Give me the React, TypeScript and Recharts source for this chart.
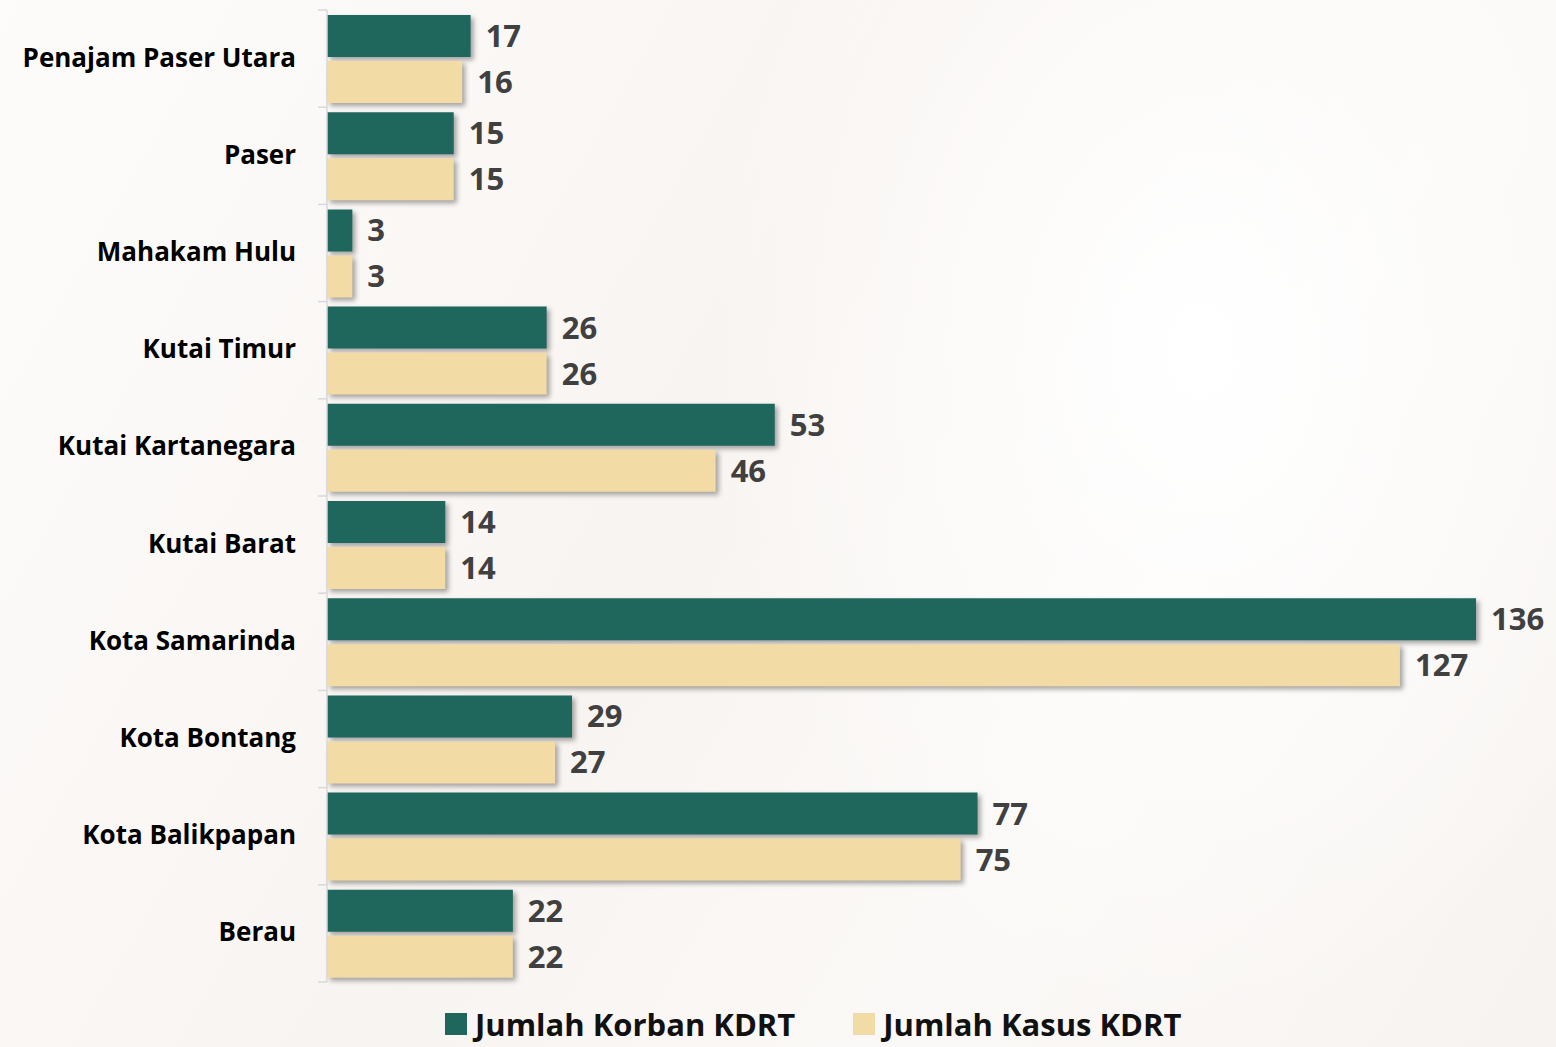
import React from "react";
import { BarChart, Bar, XAxis, YAxis, LabelList, Rectangle } from "recharts";

const regions = [
  "Penajam Paser Utara",
  "Paser",
  "Mahakam Hulu",
  "Kutai Timur",
  "Kutai Kartanegara",
  "Kutai Barat",
  "Kota Samarinda",
  "Kota Bontang",
  "Kota Balikpapan",
  "Berau",
];
const korban = [17, 15, 3, 26, 53, 14, 136, 29, 77, 22];
const kasus = [16, 15, 3, 26, 46, 14, 127, 27, 75, 22];

const TEAL = "#1f665c";
const BEIGE = "#f2dba4";
const FONT = "'Open Sans', Lato, sans-serif";

const W = 1556;
const H = 1047;
const AXIS_X = 327;
const BAND = 97.2;

const data = regions.map((region, i) => ({ region, korban: korban[i], kasus: kasus[i] }));

function ShadowBar(props: any) {
  return <Rectangle {...props} style={{ filter: "drop-shadow(3px 3px 2.5px rgba(0,0,0,0.35))" }} />;
}

function RegionTick({ x, y, payload, index }: any) {
  const top = y - BAND / 2;
  return (
    <g>
      <line x1={AXIS_X - 9} x2={AXIS_X} y1={top} y2={top} stroke="#d9d9d9" strokeWidth={1.5} />
      {index === regions.length - 1 && (
        <line x1={AXIS_X - 9} x2={AXIS_X} y1={top + BAND} y2={top + BAND} stroke="#d9d9d9" strokeWidth={1.5} />
      )}
      <text x={296} y={y} dy={8} textAnchor="end" fill="#000" fontSize={26} fontWeight={700} fontFamily={FONT}>
        {payload.value}
      </text>
    </g>
  );
}

const valueStyle = { fill: "#404040", fontSize: 31, fontWeight: 700, fontFamily: FONT };

export default function App() {
  return (
    <div
      style={{
        position: "absolute",
        left: 0,
        top: 0,
        width: W,
        height: H,
        overflow: "hidden",
        background:
          "radial-gradient(ellipse 500px 700px at 1200px 350px, #ffffff 0%, rgba(255,255,255,0) 100%), linear-gradient(120deg, #fdfcfb 0%, #f8f4f1 45%, #fbf9f7 70%, #f7f3f0 100%)",
      }}
    >
      <BarChart
        width={W}
        height={H}
        data={data}
        layout="vertical"
        barSize={42}
        barGap={4}
        margin={{ top: 10, right: 80, bottom: 65, left: 0 }}
      >
        <XAxis type="number" domain={[0, 136]} hide />
        <YAxis
          type="category"
          dataKey="region"
          width={AXIS_X}
          axisLine={{ stroke: "#d9d9d9", strokeWidth: 1.5 }}
          tickLine={false}
          tick={<RegionTick />}
          interval={0}
        />
        <Bar dataKey="korban" fill={TEAL} shape={<ShadowBar />} isAnimationActive={false}>
          <LabelList dataKey="korban" position="right" offset={15} style={valueStyle} />
        </Bar>
        <Bar dataKey="kasus" fill={BEIGE} shape={<ShadowBar />} isAnimationActive={false}>
          <LabelList dataKey="kasus" position="right" offset={15} style={valueStyle} />
        </Bar>
      </BarChart>
      <div
        style={{
          position: "absolute",
          top: 1005,
          left: 445,
          display: "flex",
          alignItems: "center",
          fontFamily: FONT,
          fontWeight: 700,
          fontSize: 31,
          lineHeight: "38px",
          color: "#111",
          whiteSpace: "nowrap",
        }}
      >
        <span style={{ width: 22, height: 22, background: TEAL, marginRight: 8, display: "inline-block" }} />
        <span>Jumlah Korban KDRT</span>
        <span style={{ width: 22, height: 22, background: BEIGE, marginLeft: 58, marginRight: 8, display: "inline-block" }} />
        <span>Jumlah Kasus KDRT</span>
      </div>
    </div>
  );
}
